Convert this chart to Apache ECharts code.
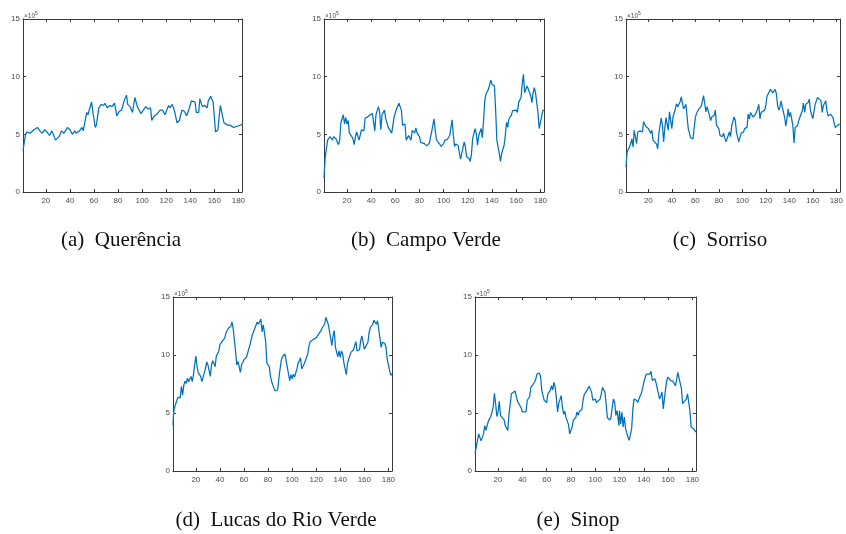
<!DOCTYPE html>
<html>
<head>
<meta charset="utf-8">
<script src="https://cdn.jsdelivr.net/npm/echarts@6/dist/echarts.min.js"></script>
<style>html,body{margin:0;padding:0;background:#fff}#c{width:846px;height:534px}</style>
</head>
<body>
<div id="c"></div>
<script>
// x: day index, y: value in units of 10^5
const xTicks = [20, 40, 60, 80, 100, 120, 140, 160, 180];
const yTicks = [0, 5, 10, 15];
const captions = ['(a)  Querência', '(b)  Campo Verde', '(c)  Sorriso', '(d)  Lucas do Rio Verde', '(e)  Sinop'];
const scaleLabel = '×10';
const scaleExp = '5';

const querencia = [[1,3.6],[3,4.9],[4,5.2],[7,5.1],[10,5.4],[11,5.3],[13,5.6],[15,5.3],[17,5.1],[19,5.4],[21,5.2],[23,4.9],[25,5.3],[26,5.2],[28,4.5],[31,4.8],[33,5.3],[35,5.1],[38,5.6],[40,5.4],[42,5.0],[44,5.3],[45,5.1],[48,5.3],[50,5.6],[51,5.3],[54,6.9],[55,6.7],[58,7.8],[59,7.0],[61,5.6],[62,5.8],[64,7.3],[66,7.6],[68,7.5],[69,7.7],[71,7.3],[73,7.5],[75,7.4],[77,7.7],[79,6.6],[81,7.0],[83,7.1],[85,7.9],[87,8.4],[88,7.6],[90,7.4],[92,6.9],[94,8.2],[96,7.4],[99,6.8],[100,6.8],[103,7.4],[105,7.2],[107,7.3],[108,6.2],[110,6.6],[112,6.7],[115,7.1],[117,7.1],[119,6.7],[122,7.5],[123,7.3],[125,7.6],[127,7.0],[129,6.0],[131,6.2],[133,7.1],[135,7.0],[137,6.6],[139,7.2],[141,7.9],[144,7.8],[145,6.9],[147,6.9],[148,8.1],[150,7.4],[152,7.5],[154,7.3],[155,7.9],[157,8.3],[159,7.8],[161,5.2],[163,5.4],[164,6.5],[165,7.5],[166,7.4],[168,6.0],[171,5.8],[173,5.8],[176,5.6],[179,5.7],[182,5.8],[183,5.9]];

const campoVerde = [[1,1.2],[2,3.0],[4,4.5],[6,4.8],[7,4.7],[8,4.5],[9,4.8],[11,4.6],[12,4.5],[13,4.1],[14,4.5],[15,6.0],[16,5.9],[17,6.7],[18,5.9],[19,6.45],[20,5.9],[21,6.2],[22,5.1],[24,4.8],[25,4.6],[26,4.1],[27,4.8],[28,5.2],[30,4.5],[31,4.4],[32,5.4],[34,5.3],[35,6.4],[37,6.5],[39,6.7],[41,6.8],[42,6.1],[43,5.3],[44,6.7],[46,7.4],[47,6.95],[48,5.4],[49,6.7],[51,7.1],[52,6.4],[54,5.65],[55,5.7],[57,5.1],[58,5.2],[59,6.5],[61,7.2],[63,7.7],[65,7.1],[66,5.8],[67,5.65],[68,5.9],[69,4.5],[71,4.9],[72,4.8],[73,4.5],[74,5.35],[76,5.1],[77,5.55],[78,5.1],[80,4.8],[81,4.3],[84,4.2],[86,4.0],[88,4.2],[90,5.2],[92,6.35],[93,5.35],[94,4.55],[96,4.25],[98,3.95],[100,4.2],[101,4.5],[103,4.55],[105,4.9],[107,6.25],[108,4.9],[109,3.95],[110,4.15],[112,4.05],[113,3.35],[114,2.85],[116,3.85],[117,4.35],[118,3.9],[119,3.05],[121,2.9],[122,2.65],[123,3.3],[124,4.65],[126,5.5],[127,5.05],[128,4.05],[129,4.9],[131,5.5],[132,4.7],[133,6.2],[134,7.9],[135,8.5],[137,8.9],[138,9.0],[139,9.7],[140,9.35],[142,9.2],[143,7.05],[144,4.5],[146,3.35],[147,2.65],[148,3.35],[150,4.05],[151,4.9],[152,6.05],[153,5.6],[154,6.35],[156,6.65],[157,7.05],[158,6.9],[160,7.1],[161,6.9],[162,7.75],[164,8.2],[165,9.35],[166,10.2],[167,8.6],[169,9.2],[170,9.35],[172,8.35],[173,7.75],[174,8.6],[175,9.05],[176,8.6],[178,6.9],[179,5.5],[180,5.35],[182,7.05],[183,7.1]];

const sorriso = [[1,2.2],[2,3.5],[4,3.9],[5,4.2],[6,4.6],[7,3.9],[8,5.35],[10,4.2],[11,5.2],[13,5.3],[14,5.35],[15,5.2],[16,6.1],[18,5.65],[19,5.7],[20,5.5],[22,5.1],[23,5.35],[24,4.5],[25,4.35],[27,4.15],[28,3.75],[29,5.1],[31,6.4],[32,5.8],[33,4.35],[34,5.5],[35,6.45],[36,6.5],[37,5.35],[38,6.95],[40,5.5],[41,6.5],[43,7.2],[44,7.65],[45,7.4],[47,7.8],[48,8.25],[49,8.2],[50,7.2],[52,7.6],[53,6.5],[54,5.5],[56,4.7],[57,4.55],[58,4.6],[60,6.45],[61,6.8],[63,7.2],[64,7.1],[65,7.4],[67,8.35],[68,7.65],[69,6.95],[70,7.4],[72,6.65],[73,6.2],[74,6.5],[76,6.65],[77,7.1],[78,5.8],[80,5.5],[81,4.9],[83,4.8],[84,5.1],[86,4.35],[87,4.6],[89,5.2],[90,4.8],[91,5.75],[93,6.5],[94,6.2],[95,5.2],[97,4.35],[98,4.2],[99,5.1],[101,5.2],[102,5.5],[104,5.6],[105,6.75],[106,6.35],[107,6.9],[109,6.5],[110,6.55],[111,6.7],[113,7.2],[114,7.6],[115,6.35],[116,6.9],[117,7.05],[119,7.1],[120,7.5],[121,8.3],[122,8.5],[124,8.9],[125,8.75],[126,8.6],[128,8.9],[129,8.5],[130,7.5],[131,7.1],[132,7.35],[133,7.9],[134,7.35],[136,6.5],[137,5.7],[138,6.35],[139,7.2],[140,6.5],[141,6.9],[143,5.75],[144,4.25],[145,5.6],[147,5.75],[148,6.2],[149,6.35],[151,7.05],[152,7.7],[153,6.9],[154,7.6],[156,7.75],[157,8.05],[158,7.05],[160,6.35],[161,6.25],[162,7.6],[164,8.2],[165,8.35],[167,7.9],[168,6.9],[169,7.5],[171,7.9],[172,7.05],[173,6.6],[175,6.75],[176,6.9],[177,6.5],[179,5.6],[180,5.75],[182,5.85],[183,5.9]];

const lucasRioVerde = [[1,3.9],[1.5,5.0],[2,5.35],[3,5.7],[5,6.35],[6,6.35],[7,6.3],[8,7.3],[9,6.55],[10,7.4],[11,7.75],[12,7.55],[13,8.0],[14,7.7],[16,8.15],[17,7.7],[18,8.3],[19,9.15],[20,9.9],[21,9.0],[22,8.45],[24,8.15],[25,7.7],[26,7.85],[28,8.85],[29,9.4],[30,9.15],[32,8.15],[33,9.15],[34,9.5],[36,9.0],[37,9.9],[39,10.3],[40,10.9],[42,11.2],[44,11.45],[45,11.9],[47,12.3],[49,12.45],[50,12.85],[51,12.3],[53,10.3],[54,9.15],[55,9.45],[57,8.5],[58,9.15],[60,9.6],[62,9.8],[63,10.15],[65,10.9],[67,11.75],[68,11.9],[69,12.3],[71,12.85],[72,12.65],[74,13.1],[75,12.0],[76,12.6],[78,11.2],[79,9.3],[81,9.0],[82,8.15],[83,7.7],[85,7.1],[86,6.9],[88,7.0],[89,8.0],[90,8.8],[91,9.55],[92,9.85],[94,10.1],[95,10.0],[97,8.35],[98,7.8],[99,8.3],[100,7.95],[101,8.35],[102,8.1],[104,8.8],[105,9.3],[106,9.5],[107,9.75],[108,8.8],[110,9.25],[111,9.5],[113,10.1],[114,10.8],[115,11.15],[117,11.3],[118,11.2],[120,11.5],[121,11.65],[122,11.8],[124,12.1],[125,12.35],[127,12.65],[128,13.25],[129,13.35],[130,12.65],[132,11.5],[133,10.8],[134,11.65],[135,12.1],[136,10.65],[138,9.85],[139,10.35],[140,9.8],[141,10.35],[142,10.1],[143,9.35],[145,8.3],[146,9.25],[147,9.65],[149,10.25],[150,10.35],[151,10.45],[153,11.15],[154,10.35],[156,10.45],[157,11.25],[158,11.65],[160,10.5],[161,10.45],[163,11.1],[164,11.95],[165,12.35],[167,12.65],[168,13.0],[170,12.65],[171,12.95],[172,13.1],[174,10.65],[175,11.1],[177,11.0],[178,10.65],[179,9.65],[181,8.65],[182,8.25],[183,8.4]];

const sinop = [[1,1.5],[3,2.6],[4,3.2],[6,2.6],[8,3.2],[9,3.9],[10,3.5],[12,4.3],[13,4.2],[14,4.7],[16,5.5],[17,6.7],[18,5.8],[19,4.7],[20,5.1],[21,6.0],[22,4.8],[23,4.9],[25,4.4],[26,3.9],[28,3.5],[29,4.9],[31,6.65],[32,6.5],[34,6.9],[35,6.8],[36,6.0],[37,5.9],[39,5.45],[40,5.1],[41,5.2],[43,5.1],[44,6.1],[46,6.4],[47,7.2],[48,7.3],[50,7.65],[51,7.9],[52,8.35],[54,8.45],[55,8.1],[56,6.95],[57,6.5],[58,6.1],[60,5.9],[61,6.65],[63,6.95],[64,7.35],[65,7.0],[66,7.65],[67,7.2],[68,6.35],[69,5.1],[70,5.85],[72,6.5],[73,5.5],[74,4.9],[75,5.15],[76,4.6],[78,4.0],[79,3.2],[80,3.15],[81,3.8],[82,4.4],[83,4.3],[84,4.6],[85,5.1],[86,4.8],[87,5.15],[89,5.3],[90,6.1],[91,6.6],[93,6.9],[94,7.1],[95,7.3],[97,6.8],[98,6.1],[100,6.2],[101,5.9],[102,5.8],[104,6.2],[105,6.65],[106,7.2],[108,6.8],[109,5.8],[110,4.6],[112,4.4],[113,4.6],[114,5.5],[115,6.2],[116,5.9],[117,4.8],[118,5.2],[119,4.35],[119.5,3.9],[120,5.2],[121,4.05],[122,5.05],[123,3.8],[124,4.65],[125,3.65],[126,3.8],[127,2.9],[128,2.65],[130,3.65],[131,5.35],[132,6.2],[134,6.1],[135,5.9],[136,6.2],[138,6.7],[139,7.1],[140,7.65],[142,8.35],[143,8.5],[145,8.35],[146,8.6],[147,7.8],[149,7.95],[150,7.65],[151,7.5],[153,6.2],[154,6.5],[155,6.8],[156,5.35],[158,7.1],[159,7.85],[160,8.1],[162,7.8],[163,7.95],[164,7.75],[166,7.35],[167,7.8],[168,8.5],[169,8.35],[171,7.1],[172,5.8],[173,5.65],[175,6.2],[176,6.65],[177,6.5],[178,5.2],[179,3.8],[181,3.65],[183,3.35]];

const seriesData = [querencia, campoVerde, sorriso, lucasRioVerde, sinop];

// layout (pixels)
const grids = [
  {left: 23, top: 19, width: 219, height: 173},
  {left: 324, top: 19, width: 220, height: 173},
  {left: 626, top: 19, width: 220, height: 173},
  {left: 173, top: 297, width: 219, height: 174},
  {left: 475, top: 297, width: 221, height: 174}
];
const captionPos = [[121, 240], [426, 240], [720, 240], [276, 520], [578, 520]];

const axisColor = '#3a3a3a';
const labelColor = '#4d4d4d';
const lineColor = '#0072BD';

const option = {
  animation: false,
  backgroundColor: '#ffffff',
  grid: grids.map(g => Object.assign({containLabel: false}, g)),
  xAxis: [],
  yAxis: [],
  series: [],
  graphic: []
};

grids.forEach((g, i) => {
  const common = {
    type: 'value', gridIndex: i, min: 1, max: 183,
    axisLine: {show: true, onZero: false, lineStyle: {color: axisColor, width: 1}},
    splitLine: {show: false}
  };
  option.xAxis.push(Object.assign({}, common, {
    position: 'bottom',
    axisTick: {show: true, inside: true, length: 3, customValues: xTicks, lineStyle: {color: axisColor}},
    axisLabel: {show: true, customValues: xTicks, fontSize: 8, color: labelColor, margin: 5, fontFamily: 'Liberation Sans, Arial, sans-serif'}
  }));
  option.xAxis.push(Object.assign({}, common, {
    position: 'top',
    axisTick: {show: true, inside: true, length: 3, customValues: xTicks, lineStyle: {color: axisColor}},
    axisLabel: {show: false}
  }));
  const ycommon = {
    type: 'value', gridIndex: i, min: 0, max: 15, interval: 5,
    axisLine: {show: true, onZero: false, lineStyle: {color: axisColor, width: 1}},
    splitLine: {show: false},
    axisTick: {show: true, inside: true, length: 3, lineStyle: {color: axisColor}}
  };
  option.yAxis.push(Object.assign({}, ycommon, {
    position: 'left',
    axisLabel: {show: true, fontSize: 8, color: labelColor, margin: 3, fontFamily: 'Liberation Sans, Arial, sans-serif'}
  }));
  option.yAxis.push(Object.assign({}, ycommon, {
    position: 'right',
    axisLabel: {show: false}
  }));
  option.series.push({
    type: 'line',
    xAxisIndex: 2 * i, yAxisIndex: 2 * i,
    data: seriesData[i],
    showSymbol: false, symbol: 'none',
    lineStyle: {color: lineColor, width: 1.25},
    clip: true
  });
  option.graphic.push({
    type: 'text', left: g.left + 1, top: g.top - 8, silent: true,
    style: {
      text: '{a|' + scaleLabel + '}{b|' + scaleExp + '}',
      rich: {
        a: {fontSize: 6.5, fill: labelColor, fontFamily: 'Liberation Sans, Arial, sans-serif', verticalAlign: 'bottom'},
        b: {fontSize: 5, fill: labelColor, fontFamily: 'Liberation Sans, Arial, sans-serif', padding: [0, 0, 4, 0], verticalAlign: 'bottom'}
      }
    }
  });
  option.graphic.push({
    type: 'text', x: captionPos[i][0], y: captionPos[i][1], silent: true,
    style: {
      text: captions[i], fill: '#111111',
      font: '21px "Liberation Serif", "DejaVu Serif", serif',
      align: 'center', verticalAlign: 'middle'
    }
  });
});

const chart = echarts.init(document.getElementById('c'), null, {renderer: 'canvas'});
chart.setOption(option);
</script>
</body>
</html>
